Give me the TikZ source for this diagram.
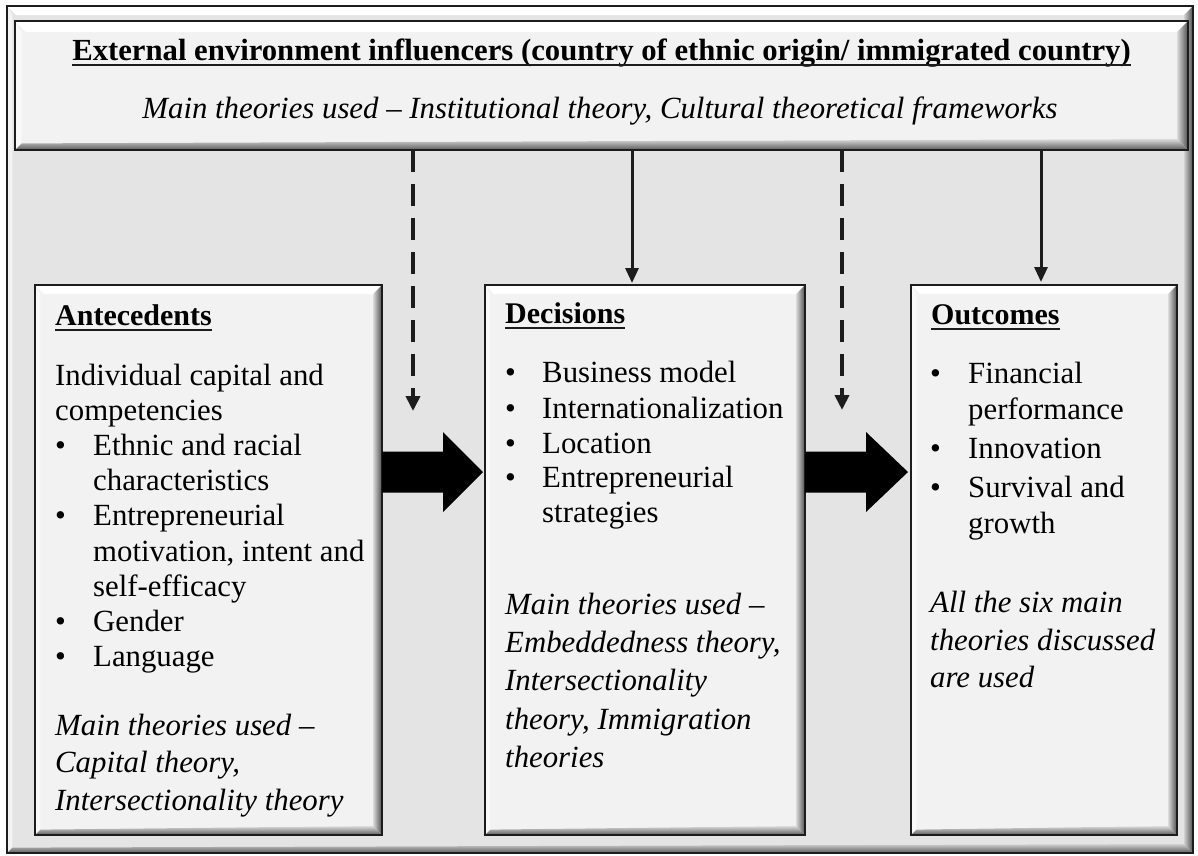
\documentclass[tikz,border=0pt]{standalone}
\usepackage{fontspec}
\setmainfont{Liberation Serif}
\usetikzlibrary{arrows.meta,calc}
\definecolor{bg}{RGB}{228,228,228}
\definecolor{boxfill}{RGB}{242,242,242}
\definecolor{edge}{RGB}{28,28,28}
\newlength\bvs
\setlength\bvs{10pt}
\tikzset{
  bevel size/.code={\setlength\bvs{#1}},
  bevel/.style={rectangle, draw=edge, line width=2pt, inner sep=0pt, outer sep=0pt, fill=#1,
    path picture={
      \fill[white] (path picture bounding box.north west) -- (path picture bounding box.north east)
        -- ([shift={(-\bvs,-\bvs)}]path picture bounding box.north east)
        -- ([shift={(\bvs,-\bvs)}]path picture bounding box.north west) -- cycle;
      \fill[white!55!#1] (path picture bounding box.north west) -- (path picture bounding box.south west)
        -- ([shift={(0.6\bvs,0.6\bvs)}]path picture bounding box.south west)
        -- ([shift={(0.6\bvs,-\bvs)}]path picture bounding box.north west) -- cycle;
      \shade[top color=#1!80!gray, bottom color=black!65] (path picture bounding box.south west) -- (path picture bounding box.south east)
        -- ([shift={(-\bvs,\bvs)}]path picture bounding box.south east)
        -- ([shift={(0.6\bvs,0.6\bvs)}]path picture bounding box.south west) -- cycle;
      \shade[left color=#1!80!gray, right color=black!70] (path picture bounding box.north east) -- (path picture bounding box.south east)
        -- ([shift={(-\bvs,\bvs)}]path picture bounding box.south east)
        -- ([shift={(-\bvs,-\bvs)}]path picture bounding box.north east) -- cycle;
    }},
  tx/.style={anchor=base west, inner sep=0pt, font=\fontsize{30.8pt}{36pt}\selectfont},
  itx/.style={anchor=base west, inner sep=0pt, font=\fontsize{30.8pt}{36pt}\selectfont\itshape},
  hd/.style={anchor=base west, inner sep=0pt, font=\fontsize{30pt}{36pt}\selectfont\bfseries},
  ttlfont/.style={inner sep=0pt, anchor=base, font=\fontsize{30.7pt}{36pt}\selectfont\bfseries},
  uline/.style={line width=2.5pt, edge},
  solidarrow/.style={line width=3pt, edge, -{Triangle[length=15pt,width=13pt]}},
  dasharrow/.style={line width=4pt, edge, dash pattern=on 22pt off 12pt, -{Triangle[length=15pt,width=14pt]}},
  block/.style={fill=black},
}
\begin{document}
\begin{tikzpicture}[x=1pt,y=-1pt]
\useasboundingbox (0,0) rectangle (1198,855);
% frames
\node[bevel=bg, bevel size=9pt, minimum width=1186pt, minimum height=847pt] (frame) at (600,429.5) {};
\node[bevel=boxfill, bevel size=11pt, minimum width=1173pt, minimum height=129pt] (top) at (601.5,85.5) {};
\node[bevel=boxfill, bevel size=9pt, minimum width=347pt, minimum height=550pt] (ante) at (208.5,560) {};
\node[bevel=boxfill, bevel size=9pt, minimum width=320pt, minimum height=550pt] (dec) at (645,560) {};
\node[bevel=boxfill, bevel size=9pt, minimum width=266pt, minimum height=550pt] (out) at (1044,560) {};

% top text
\node[ttlfont] (ttl) at (601.5,60) {External environment influencers (country of ethnic origin/ immigrated country)};
\draw[uline] ([yshift=-5pt]ttl.base west) -- ([yshift=-5pt]ttl.base east);
\node[itx, anchor=base] (tsub) at (600,118) {Main theories used -- Institutional theory, Cultural theoretical frameworks};

% vertical arrows
\coordinate (e1) at (413,411);
\coordinate (e2) at (632,283);
\coordinate (e3) at (842,410);
\coordinate (e4) at (1041,282);
\draw[dasharrow] (e1 |- top.south) -- (e1);
\draw[solidarrow] (e2 |- top.south) -- (e2);
\draw[dasharrow] (e3 |- top.south) -- (e3);
\draw[solidarrow] (e4 |- top.south) -- (e4);

% block arrows
\path (ante.east) ++(0,-88) coordinate (b1s);
\path (dec.west) ++(0,-88) coordinate (b1e);
\path (dec.east) ++(0,-88) coordinate (b2s);
\path (out.west) ++(0,-88) coordinate (b2e);
\fill[block] ($(b1s)+(0,-20.5)$) -- ($(b1e)+(-42,-20.5)$) -- ($(b1e)+(-42,-40)$) -- ($(b1e)+(-2,0)$)
  -- ($(b1e)+(-42,40)$) -- ($(b1e)+(-42,20.5)$) -- ($(b1s)+(0,20.5)$) -- cycle;
\fill[block] ($(b2s)+(0,-20.5)$) -- ($(b2e)+(-45,-20.5)$) -- ($(b2e)+(-45,-40)$) -- ($(b2e)+(-3,0)$)
  -- ($(b2e)+(-45,40)$) -- ($(b2e)+(-45,20.5)$) -- ($(b2s)+(0,20.5)$) -- cycle;

% Antecedents
\node[hd] (ah) at (55,325) {Antecedents};
\draw[uline] ([yshift=-5pt]ah.base west) -- ([yshift=-5pt]ah.base east);
\node[tx] (a1) at (55,385) {Individual capital and};
\node[tx] (a2) at (55,420) {competencies};
\node[tx] (ab1) at (55,455) {•};
\node[tx] (a3) at (93,455) {Ethnic and racial};
\node[tx] (a4) at (93,490) {characteristics};
\node[tx] (ab2) at (55,525) {•};
\node[tx] (a5) at (93,525) {Entrepreneurial};
\node[tx] (a6) at (93,561) {motivation, intent and};
\node[tx] (a7) at (93,596) {self-efficacy};
\node[tx] (ab3) at (55,631) {•};
\node[tx] (a8) at (93,631) {Gender};
\node[tx] (ab4) at (55,666) {•};
\node[tx] (a9) at (93,666) {Language};
\node[itx] (a10) at (55,735) {Main theories used --};
\node[itx] (a11) at (55,772.5) {Capital theory,};
\node[itx] (a12) at (55,810) {Intersectionality theory};

% Decisions
\node[hd] (dh) at (505,323) {Decisions};
\draw[uline] ([yshift=-5pt]dh.base west) -- ([yshift=-5pt]dh.base east);
\node[tx] (db1) at (505,382) {•};
\node[tx] (d1) at (542,382) {Business model};
\node[tx] (db2) at (505,418) {•};
\node[tx] (d2) at (542,418) {Internationalization};
\node[tx] (db3) at (505,453) {•};
\node[tx] (d3) at (542,453) {Location};
\node[tx] (db4) at (505,487) {•};
\node[tx] (d4) at (542,487) {Entrepreneurial};
\node[tx] (d5) at (542,522) {strategies};
\node[itx] (d6) at (505,614) {Main theories used --};
\node[itx] (d7) at (505,652) {Embeddedness theory,};
\node[itx] (d8) at (505,690) {Intersectionality};
\node[itx] (d9) at (505,729) {theory, Immigration};
\node[itx] (d10) at (505,767) {theories};

% Outcomes
\node[hd] (oh) at (931,324) {Outcomes};
\draw[uline] ([yshift=-5pt]oh.base west) -- ([yshift=-5pt]oh.base east);
\node[tx] (ob1) at (930,383) {•};
\node[tx] (o1) at (968,383) {Financial};
\node[tx] (o2) at (968,419) {performance};
\node[tx] (ob2) at (930,458) {•};
\node[tx] (o3) at (968,458) {Innovation};
\node[tx] (ob3) at (930,497) {•};
\node[tx] (o4) at (968,497) {Survival and};
\node[tx] (o5) at (968,533) {growth};
\node[itx] (o6) at (930,612) {All the six main};
\node[itx] (o7) at (930,650) {theories discussed};
\node[itx] (o8) at (930,687) {are used};
\end{tikzpicture}
\end{document}
